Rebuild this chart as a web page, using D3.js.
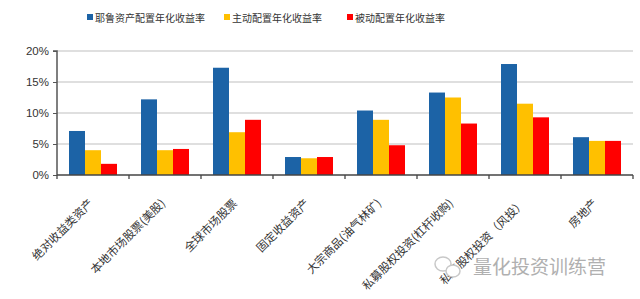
<!DOCTYPE html>
<html><head><meta charset="utf-8">
<script src="https://cdn.jsdelivr.net/npm/d3@7/dist/d3.min.js"></script>
<style>body{margin:0;background:#fff}svg{display:block}</style>
</head><body>
<svg id="c" width="640" height="299"></svg>
<script>
const categories = ["绝对收益类资产","本地市场股票(美股)","全球市场股票","固定收益资产","大宗商品(油气林矿)","私募股权投资(杠杆收购)","私募股权投资（风投）","房地产"];
const seriesNames = ["耶鲁资产配置年化收益率","主动配置年化收益率","被动配置年化收益率"];
const yale = [7.1,12.2,17.3,2.9,10.4,13.3,17.9,6.1];
const active = [4.0,4.0,6.9,2.7,8.9,12.5,11.5,5.5];
const passive = [1.8,4.2,8.9,2.9,4.8,8.3,9.3,5.5];
const colors = ["#1c63a6","#ffc000","#ff0000"];
const yTicks = [0,5,10,15,20];

const svg = d3.select("#c");
const m = {l:57, r:633, t:51, b:175};
const x = d3.scaleBand().domain(categories).range([m.l, m.r]).paddingInner(0).paddingOuter(0);
const y = d3.scaleLinear().domain([0,20]).range([m.b, m.t]);
const sub = d3.scaleBand().domain(seriesNames).range([0, x.bandwidth()]).paddingInner(0).paddingOuter(0.75);

// grid
svg.append("g").selectAll("line").data(yTicks.filter(d=>d>0)).join("line")
  .attr("x1", m.l).attr("x2", m.r).attr("y1", d=>y(d)).attr("y2", d=>y(d))
  .attr("stroke","#d4d4d4").attr("stroke-width",1.5);

const data = [yale, active, passive];
const g = svg.append("g");
categories.forEach((c,i)=>{
  data.forEach((s,j)=>{
    g.append("rect").attr("x", x(c)+sub(seriesNames[j])).attr("width", sub.bandwidth())
      .attr("y", y(s[i])).attr("height", y(0)-y(s[i])).attr("fill", colors[j]);
  });
});

// y axis
const ya = svg.append("g").attr("transform",`translate(${m.l},0)`)
  .call(d3.axisLeft(y).tickValues(yTicks).tickFormat(d=>d+"%").tickSize(4).tickPadding(4));
ya.select(".domain").attr("stroke","#555").attr("stroke-width",1.5).attr("d",`M-4,${m.t}H0V${m.b}`);
ya.selectAll(".tick line").attr("stroke","#555");
ya.selectAll("text").attr("font-family","Liberation Sans, Arial, sans-serif").attr("font-size",11.5).attr("fill","#333");

// x axis
const xa = svg.append("g").attr("transform",`translate(0,${m.b})`);
xa.append("line").attr("x1",m.l).attr("x2",m.r).attr("stroke","#444").attr("stroke-width",1.5);
xa.selectAll(".tk").data(d3.range(categories.length+1)).join("line")
  .attr("x1", i=>m.l+i*x.step()).attr("x2", i=>m.l+i*x.step()).attr("y1",0).attr("y2",4)
  .attr("stroke","#444").attr("stroke-width",1.3);
xa.selectAll("text").data(categories).join("text")
  .attr("transform", d=>`translate(${x(d)+x.bandwidth()/2+1},${29}) rotate(-45)`)
  .attr("text-anchor","end").attr("font-family","Noto Sans CJK SC, sans-serif")
  .attr("font-size",11.5).attr("fill","#333").text(d=>d);

// legend
const lg = svg.append("g");
const lx = [87,224,347];
seriesNames.forEach((n,j)=>{
  lg.append("rect").attr("x",lx[j]).attr("y",14).attr("width",6).attr("height",6).attr("fill",colors[j]);
  lg.append("text").attr("x",lx[j]+8).attr("y",21.5).attr("font-family","Noto Sans CJK SC, sans-serif")
    .attr("font-size",10).attr("fill","#333").text(n);
});

// watermark
const wm = svg.append("g");
wm.append("ellipse").attr("cx",443).attr("cy",264).attr("rx",8).attr("ry",7).attr("fill","#fff").attr("stroke","#c8c8c8").attr("stroke-width",1.5);
wm.append("ellipse").attr("cx",453).attr("cy",271).attr("rx",7).attr("ry",6).attr("fill","#fff").attr("stroke","#c8c8c8").attr("stroke-width",1.5);
wm.append("text").attr("x",473).attr("y",274).attr("font-family","Noto Sans CJK SC, sans-serif")
  .attr("font-size",19).attr("fill","#b0b0b0").text("量化投资训练营");
</script>
</body></html>
